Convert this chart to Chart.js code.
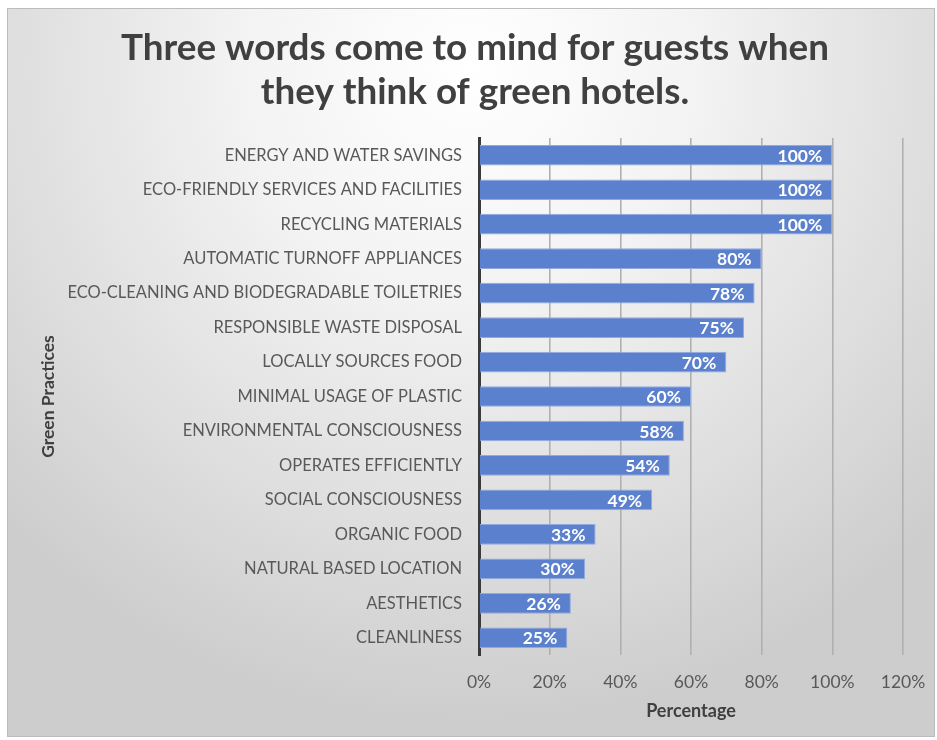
<!DOCTYPE html>
<html>
<head>
<meta charset="utf-8">
<script src="https://cdn.jsdelivr.net/npm/chart.js@4"></script>
<style>
  html, body { margin: 0; padding: 0; background: #ffffff; }
  #frame {
    position: absolute; left: 7px; top: 8px; width: 928px; height: 729px;
    box-sizing: border-box; border: 1px solid #bcbcbc;
    background: radial-gradient(ellipse 70% 90% at 50% 8%, #ffffff 0%, #f3f3f3 35%, #dcdcdc 75%, #cdcdcd 100%);
  }
  #frame canvas { display: block; }
</style>
</head>
<body>
<div id="frame"><canvas id="practicesChart" width="926" height="727"></canvas></div>
<script>
// data
const practices = [
    'ENERGY AND WATER SAVINGS',
    'ECO-FRIENDLY SERVICES AND FACILITIES',
    'RECYCLING MATERIALS',
    'AUTOMATIC TURNOFF APPLIANCES',
    'ECO-CLEANING AND BIODEGRADABLE TOILETRIES',
    'RESPONSIBLE WASTE DISPOSAL',
    'LOCALLY SOURCES FOOD',
    'MINIMAL USAGE OF PLASTIC',
    'ENVIRONMENTAL CONSCIOUSNESS',
    'OPERATES EFFICIENTLY',
    'SOCIAL CONSCIOUSNESS',
    'ORGANIC FOOD',
    'NATURAL BASED LOCATION',
    'AESTHETICS',
    'CLEANLINESS',
];
const percentages = [100, 100, 100, 80, 78, 75, 70, 60, 58, 54, 49, 33, 30, 26, 25];
const xTicks = [0, 20, 40, 60, 80, 100, 120];

// white value labels inside the bar ends
const barLabels = {
    id: 'barLabels',
    afterDatasetsDraw(chart) {
        const c = chart.ctx;
        const meta = chart.getDatasetMeta(0);
        c.save();
        c.font = 'bold 17.5px Lato';
        c.fillStyle = '#ffffff';
        c.textAlign = 'right';
        c.textBaseline = 'middle';
        meta.data.forEach((bar, i) => {
            c.fillText(percentages[i] + '%', bar.x - 10, bar.y + 1);
        });
        c.restore();
    },
};

const ctx = document.getElementById('practicesChart').getContext('2d');
new Chart(ctx, {
    type: 'bar',
    data: {
        labels: practices,
        datasets: [
            {
                data: percentages,
                backgroundColor: '#5b80cd',
                borderColor: '#90aae0',
                borderWidth: 1,
                barPercentage: 0.6,
                categoryPercentage: 1,
            },
        ],
    },
    options: {
        indexAxis: 'y',
        responsive: false,
        animation: false,
        layout: { padding: { left: 8, right: 0, top: 0, bottom: 0 } },
        plugins: {
            legend: { display: false },
            tooltip: { enabled: false },
            title: {
                display: true,
                text: ['Three words come to mind for guests when', 'they think of green hotels.'],
                color: '#404040',
                font: { family: 'Lato', size: 36.8, weight: 'bold', lineHeight: 1.196 },
                padding: { top: 17, bottom: 24 },
            },
        },
        scales: {
            x: {
                min: 0,
                max: 120,
                afterBuildTicks(scale) {
                    scale.ticks = xTicks.map(v => ({ value: v }));
                },
                afterFit(scale) {
                    scale.height = 727 - 646;
                    scale.paddingLeft = 0;
                    scale.paddingRight = 31;
                },
                ticks: {
                    color: '#595959',
                    font: { family: 'Lato', size: 17.5 },
                    padding: 17,
                    callback: v => v + '%',
                },
                grid: {
                    color: ctx => (ctx.tick && ctx.tick.value === 0 ? 'rgba(0,0,0,0)' : '#b0b0b0'),
                    lineWidth: 1.6,
                    drawTicks: false,
                },
                border: { display: false },
                title: {
                    display: true,
                    text: 'Percentage',
                    color: '#404040',
                    font: { family: 'Lato', size: 18, weight: 'bold' },
                    padding: { top: 0, bottom: 14 },
                },
            },
            y: {
                afterFit(scale) {
                    scale.width = 471 - 8;
                },
                ticks: {
                    color: '#595959',
                    font: { family: 'Lato', size: 16.5 },
                    padding: 9,
                },
                grid: { display: false },
                border: { display: true, color: '#3a3a3a', width: 3 },
                title: {
                    display: true,
                    text: 'Green Practices',
                    color: '#404040',
                    font: { family: 'Lato', size: 17.5, weight: 'bold' },
                    padding: { top: 22, bottom: 0 },
                },
            },
        },
    },
    plugins: [barLabels],
});
</script>
</body>
</html>
